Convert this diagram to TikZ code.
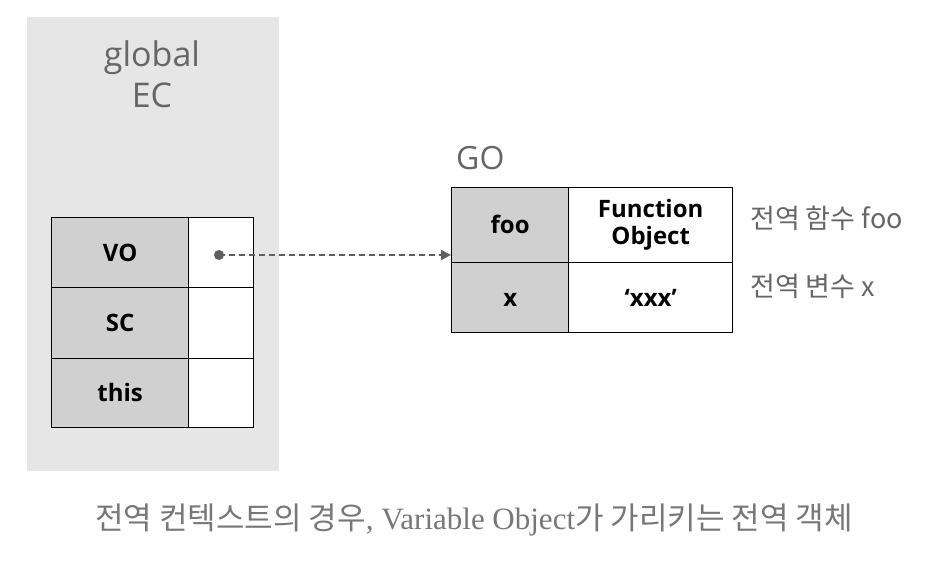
\documentclass[tikz,border=0pt]{standalone}
\usepackage{fontspec}
\usetikzlibrary{arrows.meta}
\setmainfont{Open Sans}
\newfontfamily\kr{Noto Sans CJK KR}
\newfontfamily\lserif{Liberation Serif}
\definecolor{bggray}{HTML}{E6E6E6}
\definecolor{cellgray}{HTML}{D0D0D0}
\definecolor{txtgray}{HTML}{666666}
\definecolor{capgray}{HTML}{777777}
\definecolor{arrgray}{HTML}{5E5E5E}
\tikzset{
  cell/.style={draw=black, line width=1.4pt, anchor=north west, inner sep=0pt, align=center,
    font=\fontsize{24}{27}\selectfont\bfseries},
  keycell/.style={cell, fill=cellgray},
  valcell/.style={cell, fill=white},
  oneline/.style={text height=18pt, text depth=1pt},
  gtext/.style={text=txtgray, inner sep=0pt},
}
\begin{document}
\begin{tikzpicture}[x=1pt,y=-1pt]
\useasboundingbox (0,0) rectangle (948,576);
% background panel
\node[fill=bggray, anchor=north west, minimum width=252pt, minimum height=454pt, inner sep=0pt] (panel) at (27,17) {};
\node[gtext, align=center, font=\fontsize{34}{41}\selectfont] (ec) at (152,74) {global\\EC};
% EC table
\node[keycell, oneline, minimum width=137pt, minimum height=70pt] (vo) at (51,217) {VO};
\node[valcell, minimum width=65pt, minimum height=70pt] (vov) at (188,217) {};
\node[keycell, oneline, minimum width=137pt, minimum height=71pt] (sc) at (51,287) {SC};
\node[valcell, minimum width=65pt, minimum height=71pt] (scv) at (188,287) {};
\node[keycell, oneline, minimum width=137pt, minimum height=69pt] (this) at (51,358) {this};
\node[valcell, minimum width=65pt, minimum height=69pt] (thisv) at (188,358) {};
% GO table
\node[gtext, anchor=west, font=\fontsize{32}{36}\selectfont] (go) at (456,158) {GO};
\node[keycell, oneline, minimum width=117pt, minimum height=75pt] (foo) at (451,187) {foo};
\node[valcell, minimum width=164pt, minimum height=75pt] (fobj) at (568,187) {Function\\Object};
\node[keycell, oneline, minimum width=117pt, minimum height=70pt] (x) at (451,262) {x};
\node[valcell, oneline, minimum width=164pt, minimum height=70pt] (xv) at (568,262) {‘xxx’};
% side labels
\node[gtext, anchor=west, font=\kr\fontsize{27}{30}\selectfont] (lab1) at (750,218) {전역 함수 foo};
\node[gtext, anchor=west, font=\kr\fontsize{27}{30}\selectfont] (lab2) at (750,286) {전역 변수 x};
% pointer
\coordinate (dot) at (219,255);
\coordinate (tip) at (foo.west |- dot);
\fill[arrgray] (dot) circle (5pt);
\draw[arrgray, line width=2pt, dash pattern=on 6pt off 4pt, -{Triangle[length=10pt,width=10pt]}] (dot) -- (tip);
% caption
\node[text=capgray, inner sep=0pt, font=\kr\fontsize{31}{35}\selectfont] (cap) at (474,520)
  {전역 컨텍스트의 경우{\lserif, Variable Object}가 가리키는 전역 객체};
\end{tikzpicture}
\end{document}
